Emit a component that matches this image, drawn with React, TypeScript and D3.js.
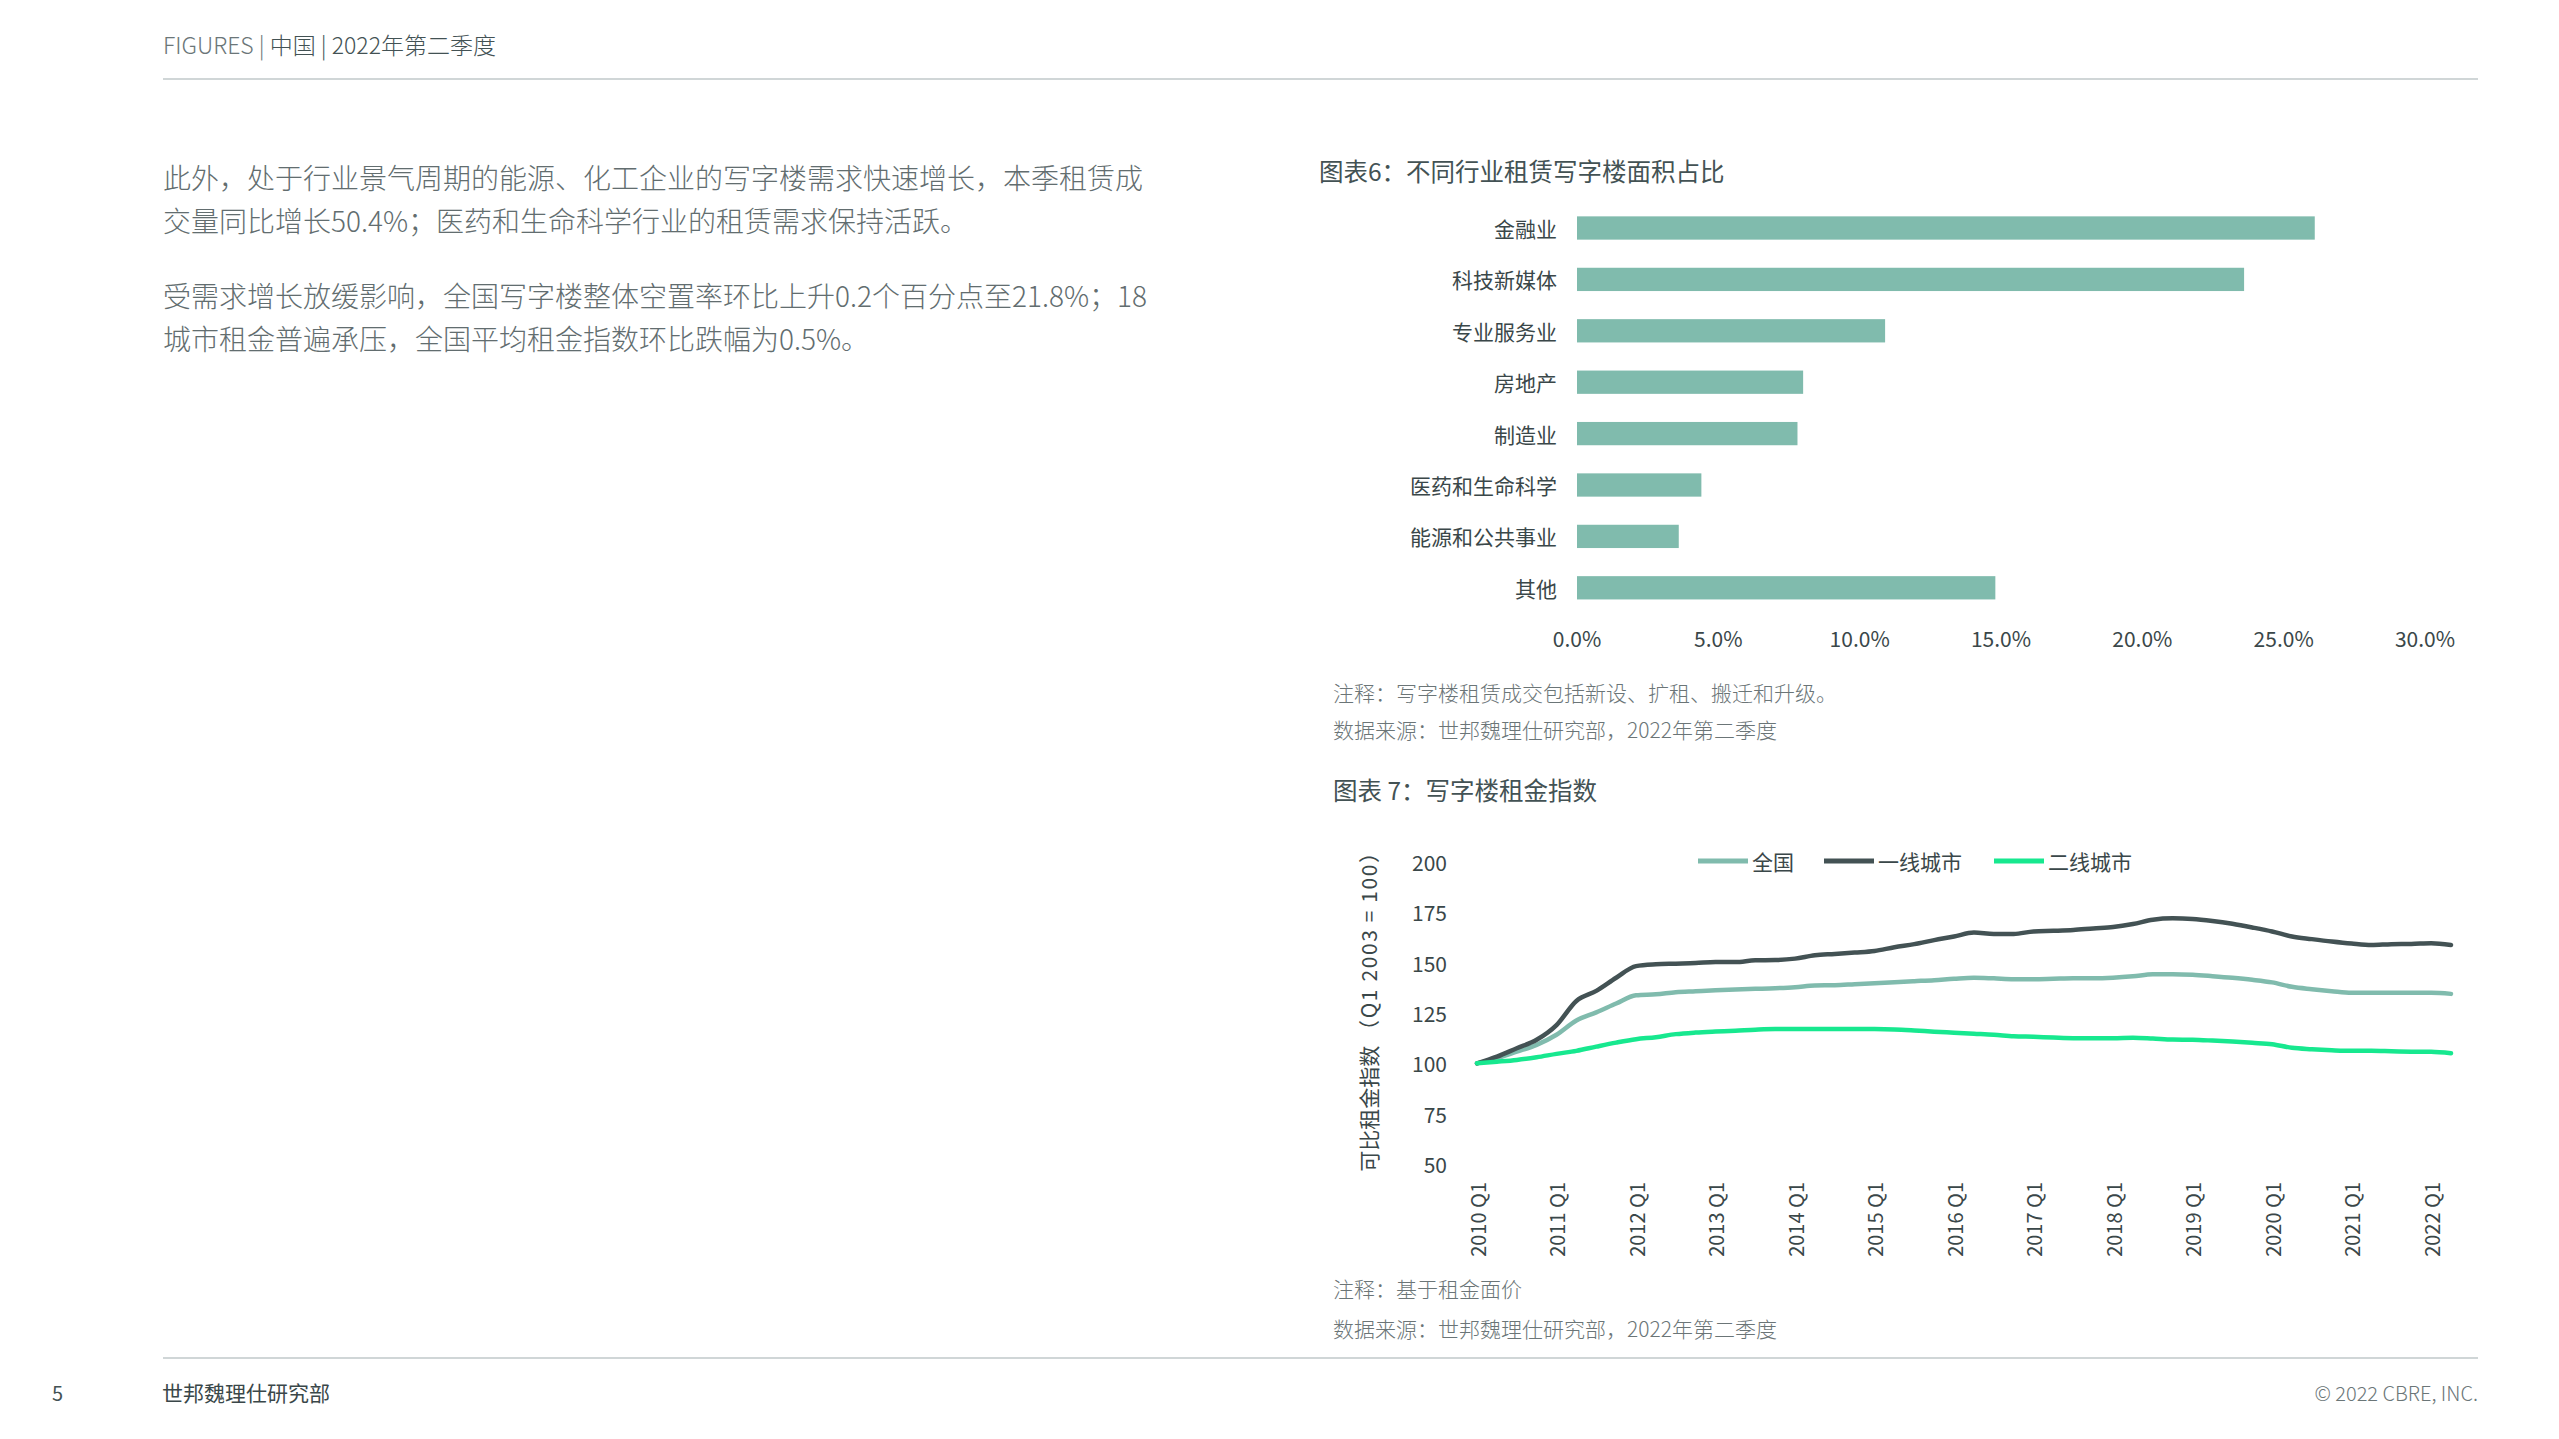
import * as d3 from 'd3';

const FONT = '"Noto Sans CJK SC", "Noto Sans", sans-serif';

// 图表6 data
const industries = ['金融业', '科技新媒体', '专业服务业', '房地产', '制造业', '医药和生命科学', '能源和公共事业', '其他'];
const shares = [0.261, 0.236, 0.109, 0.080, 0.078, 0.044, 0.036, 0.148];
const shareTicks = [0, 0.05, 0.1, 0.15, 0.2, 0.25, 0.3];

// 图表7 data
const quarters = [
  '2010 Q1', '2010 Q2', '2010 Q3', '2010 Q4',
  '2011 Q1', '2011 Q2', '2011 Q3', '2011 Q4',
  '2012 Q1', '2012 Q2', '2012 Q3', '2012 Q4',
  '2013 Q1', '2013 Q2', '2013 Q3', '2013 Q4',
  '2014 Q1', '2014 Q2', '2014 Q3', '2014 Q4',
  '2015 Q1', '2015 Q2', '2015 Q3', '2015 Q4',
  '2016 Q1', '2016 Q2', '2016 Q3', '2016 Q4',
  '2017 Q1', '2017 Q2', '2017 Q3', '2017 Q4',
  '2018 Q1', '2018 Q2', '2018 Q3', '2018 Q4',
  '2019 Q1', '2019 Q2', '2019 Q3', '2019 Q4',
  '2020 Q1', '2020 Q2', '2020 Q3', '2020 Q4',
  '2021 Q1', '2021 Q2', '2021 Q3', '2021 Q4',
  '2022 Q1', '2022 Q2',
];
const national = [
  100, 102.5, 105.8, 109.2,
  114.2, 121.3, 125.3, 129.7,
  133.8, 134.3, 135.3, 135.8,
  136.3, 136.7, 137, 137.3,
  137.8, 138.7, 138.8, 139.3,
  139.8, 140.3, 140.8, 141.3,
  142, 142.5, 142.2, 141.8,
  141.8, 142, 142.2, 142.2,
  142.5, 143.2, 144.2, 144.3,
  144, 143.3, 142.5, 141.5,
  140.2, 138, 136.8, 135.8,
  135, 135, 135, 135,
  135, 134.5,
];
const tier1 = [
  100, 103.3, 107.5, 111.7,
  119, 131, 136, 142.5,
  148.3, 149.2, 149.5, 149.8,
  150.3, 150.3, 151.2, 151.3,
  152, 153.7, 154.3, 155,
  155.8, 157.7, 159.2, 161.2,
  163, 165, 164.3, 164.3,
  165.5, 165.8, 166.2, 167,
  167.7, 169.2, 171.3, 172,
  171.7, 170.7, 169.3, 167.5,
  165.5, 163, 161.7, 160.5,
  159.5, 158.8, 159.2, 159.3,
  159.7, 158.8,
];
const tier2 = [
  100, 100.8, 101.7, 103,
  104.7, 106.2, 108.3, 110.3,
  112, 113, 114.5, 115.3,
  115.8, 116.2, 116.7, 117,
  117, 117, 117, 117,
  117, 116.8, 116.3, 115.7,
  115.2, 114.7, 114.2, 113.5,
  113.2, 112.8, 112.5, 112.5,
  112.5, 112.7, 112.3, 111.8,
  111.7, 111.3, 110.8, 110.2,
  109.5, 107.7, 107, 106.5,
  106.2, 106.2, 106, 105.8,
  105.7, 105,
];
const seriesNames = ['全国', '一线城市', '二线城市'];
const seriesColors = ['#80bbad', '#435254', '#17e88f'];
const indexTicks = [50, 75, 100, 125, 150, 175, 200];

const paragraph1 = [
  '此外，处于行业景气周期的能源、化工企业的写字楼需求快速增长，本季租赁成',
  '交量同比增长50.4%；医药和生命科学行业的租赁需求保持活跃。',
];
const paragraph2 = [
  '受需求增长放缓影响，全国写字楼整体空置率环比上升0.2个百分点至21.8%；18',
  '城市租金普遍承压，全国平均租金指数环比跌幅为0.5%。',
];

const BarChart = () => {
  const x = d3.scaleLinear().domain([0, 0.3]).range([1577, 2425]);
  const y = d3
    .scaleBand<string>()
    .domain(industries)
    .range([202.3, 613.5])
    .paddingInner(0.547)
    .paddingOuter(0.2735);
  const fmt = d3.format('.1%');
  return (
    <g>
      <text x={1319} y={170} fontSize={24.5} fill="#435254" dominantBaseline="central">
        图表6：不同行业租赁写字楼面积占比
      </text>
      {industries.map((c, i) => (
        <g key={c}>
          <rect x={x(0)} y={y(c)} width={x(shares[i]) - x(0)} height={y.bandwidth()} fill="#80bbad" />
          <text
            x={1557}
            y={(y(c) as number) + y.bandwidth() / 2}
            fontSize={21}
            fill="#3a4749"
            textAnchor="end"
            dominantBaseline="central"
          >
            {c}
          </text>
        </g>
      ))}
      {shareTicks.map((t) => (
        <text key={t} x={x(t)} y={638} fontSize={21} fill="#3a4749" textAnchor="middle" dominantBaseline="central">
          {fmt(t)}
        </text>
      ))}
      <text x={1333} y={692} fontSize={21} fill="#6b7577" fontWeight={300} dominantBaseline="central">
        注释：写字楼租赁成交包括新设、扩租、搬迁和升级。
      </text>
      <text x={1333} y={729} fontSize={21} fill="#6b7577" fontWeight={300} dominantBaseline="central">
        数据来源：世邦魏理仕研究部，2022年第二季度
      </text>
    </g>
  );
};

const LineChart = () => {
  const x = d3.scalePoint<string>().domain(quarters).range([1477, 2451]);
  const y = d3.scaleLinear().domain([50, 200]).range([1164, 862]);
  const line = d3
    .line<number>()
    .x((_, i) => x(quarters[i]) as number)
    .y((d) => y(d))
    .curve(d3.curveMonotoneX);
  const data = [national, tier1, tier2];
  const legendX = [1698, 1824, 1994];
  return (
    <g>
      <text x={1333} y={789} fontSize={24.5} fill="#435254" dominantBaseline="central">
        图表 7：写字楼租金指数
      </text>
      {indexTicks.map((t) => (
        <text key={t} x={1447} y={y(t)} fontSize={21} fill="#3a4749" textAnchor="end" dominantBaseline="central">
          {t}
        </text>
      ))}
      {quarters
        .filter((q) => q.endsWith('Q1'))
        .map((q) => (
          <text
            key={q}
            transform={`translate(${x(q)},1182) rotate(-90)`}
            fontSize={20}
            fill="#3a4749"
            textAnchor="end"
            dominantBaseline="central"
          >
            {q}
          </text>
        ))}
      <text
        transform={`translate(1368,${(y(50) + y(200)) / 2 - 7}) rotate(-90)`}
        fontSize={21}
        fill="#3a4749"
        textAnchor="middle"
        dominantBaseline="central"
      >
        可比租金指数 <tspan letterSpacing={1.6}>（Q1 2003 = 100）</tspan>
      </text>
      {data.map((vals, i) => (
        <path
          key={seriesNames[i]}
          d={line(vals) as string}
          fill="none"
          stroke={seriesColors[i]}
          strokeWidth={4.5}
          strokeLinejoin="round"
          strokeLinecap="round"
        />
      ))}
      {seriesNames.map((n, i) => (
        <g key={n}>
          <line x1={legendX[i]} x2={legendX[i] + 50} y1={861} y2={861} stroke={seriesColors[i]} strokeWidth={5} />
          <text x={legendX[i] + 54} y={861} fontSize={21} fill="#3a4749" dominantBaseline="central">
            {n}
          </text>
        </g>
      ))}
      <text x={1333} y={1288} fontSize={21} fill="#6b7577" fontWeight={300} dominantBaseline="central">
        注释：基于租金面价
      </text>
      <text x={1333} y={1328} fontSize={21} fill="#6b7577" fontWeight={300} dominantBaseline="central">
        数据来源：世邦魏理仕研究部，2022年第二季度
      </text>
    </g>
  );
};

export default function App() {
  return (
    <svg
      width={2559}
      height={1439}
      viewBox="0 0 2559 1439"
      style={{ position: 'absolute', left: 0, top: 0, display: 'block', background: '#fff' }}
      fontFamily={FONT}
    >
      <rect width={2559} height={1439} fill="#fff" />
      <text x={163} y={44} fontSize={23} fontWeight={300} dominantBaseline="central" fill="#435254">
        <tspan fill="#6b7678">FIGURES | </tspan>
        <tspan>中国 | 2022年第二季度</tspan>
      </text>
      <line x1={163} x2={2478} y1={79} y2={79} stroke="#d0d6d7" strokeWidth={2} />

      {paragraph1.map((t, i) => (
        <text key={t} x={163} y={177 + i * 43} fontSize={28} fontWeight={300} fill="#626d6f" dominantBaseline="central">
          {t}
        </text>
      ))}
      {paragraph2.map((t, i) => (
        <text key={t} x={163} y={295 + i * 43} fontSize={28} fontWeight={300} fill="#626d6f" dominantBaseline="central">
          {t}
        </text>
      ))}

      <BarChart />
      <LineChart />

      <line x1={163} x2={2478} y1={1358} y2={1358} stroke="#d0d6d7" strokeWidth={2} />
      <text x={52} y={1392} fontSize={20} fill="#435254" dominantBaseline="central">
        5
      </text>
      <text x={162} y={1392} fontSize={21} fill="#3a4749" dominantBaseline="central">
        世邦魏理仕研究部
      </text>
      <text x={2478} y={1392} fontSize={20} fontWeight={300} fill="#6b7678" textAnchor="end" dominantBaseline="central">
        © 2022 CBRE, INC.
      </text>
    </svg>
  );
}
